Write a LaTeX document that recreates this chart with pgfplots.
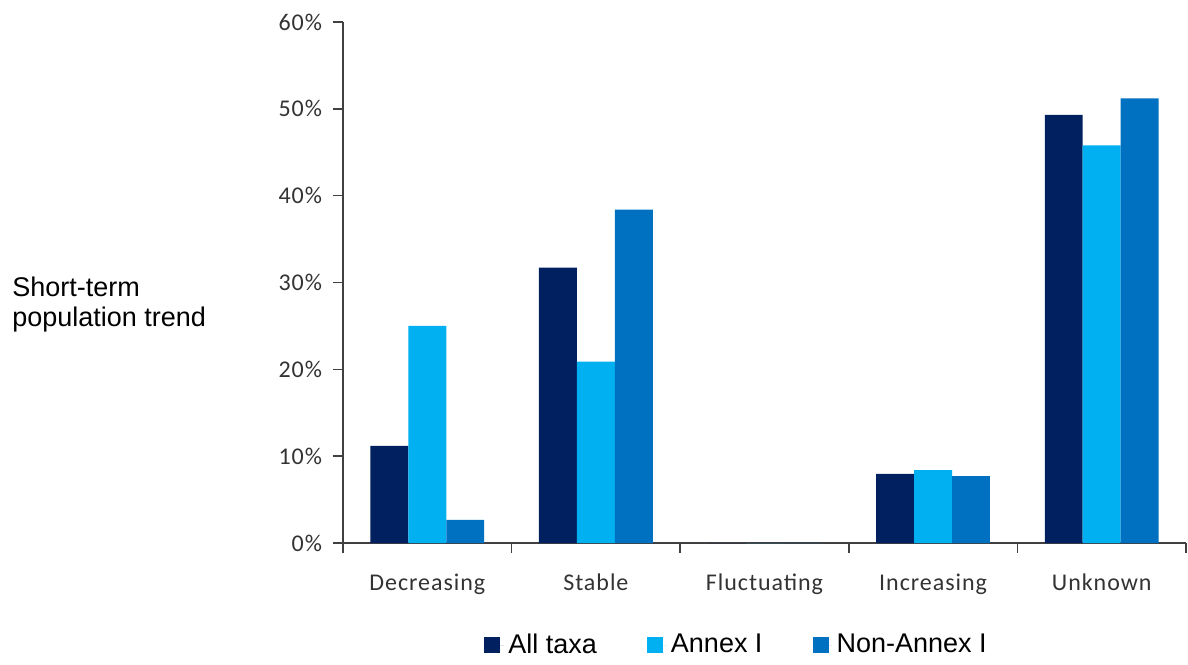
\documentclass[border=0pt]{standalone}
\usepackage{fontspec}
\setmainfont{Liberation Sans}
\newfontfamily\calib[LetterSpace=4]{Carlito}
\usepackage{pgfplots}
\pgfplotsset{compat=1.18}
\definecolor{c1}{HTML}{002060}
\definecolor{c2}{HTML}{00B0F0}
\definecolor{c3}{HTML}{0070C0}
\begin{document}
\begin{tikzpicture}
\begin{axis}[
  at={(0,0)}, anchor=south west,
  scale only axis, width=421.5pt, height=260.5pt,
  xmin=-0.5, xmax=4.5, ymin=0, ymax=60,
  axis x line*=bottom, axis y line*=left,
  axis line style={black!75, line width=0.75pt},
  ybar=0pt, bar width=0.225,
  xtick={0,1,2,3,4},
  xticklabels={Decreasing,Stable,Fluctuating,Increasing,Unknown},
  major x tick style={draw=none},
  minor xtick={-0.5,0.5,1.5,2.5,3.5,4.5},
  minor x tick style={black!75, line width=0.75pt},
  ytick={0,10,20,30,40,50,60},
  yticklabel={\pgfmathprintnumber[assume math mode=true]{\tick}\%},
  y tick style={black!75, line width=0.75pt},
  tick align=outside, major tick length=5pt, minor tick length=5pt,
  tick label style={font=\calib\fontsize{12}{14}\selectfont, text=black!80},
  xticklabel style={yshift=-7pt},
  yticklabel style={xshift=-2pt},
  legend style={at={(0.468,-0.196)}, anchor=center, draw=none,
    font=\fontsize{13.5}{16}\selectfont, legend columns=-1,
    /tikz/every even column/.append style={column sep=23pt}},
  legend image code/.code={\fill[#1] (0pt,-4pt) rectangle (8pt,4pt); \path (0pt,0pt) -- (10pt,0pt);},
]
\addplot[fill=c1, draw=none] coordinates {(0,11.2) (1,31.7) (2,0) (3,7.95) (4,49.3)};
\addplot[fill=c2, draw=none] coordinates {(0,25.0) (1,20.9) (2,0) (3,8.4) (4,45.8)};
\addplot[fill=c3, draw=none] coordinates {(0,2.65) (1,38.4) (2,0) (3,7.7) (4,51.2)};
\legend{All taxa, Annex I, Non-Annex I}
\end{axis}
\node[anchor=west, align=left, font=\fontsize{13.5}{15}\selectfont, inner sep=0pt] at (-165.5pt,119pt) {Short-term\\population trend};
\pgfresetboundingbox
\useasboundingbox (-171.5pt,-60.5pt) rectangle (422.5pt,271.5pt);
\end{tikzpicture}
\end{document}
